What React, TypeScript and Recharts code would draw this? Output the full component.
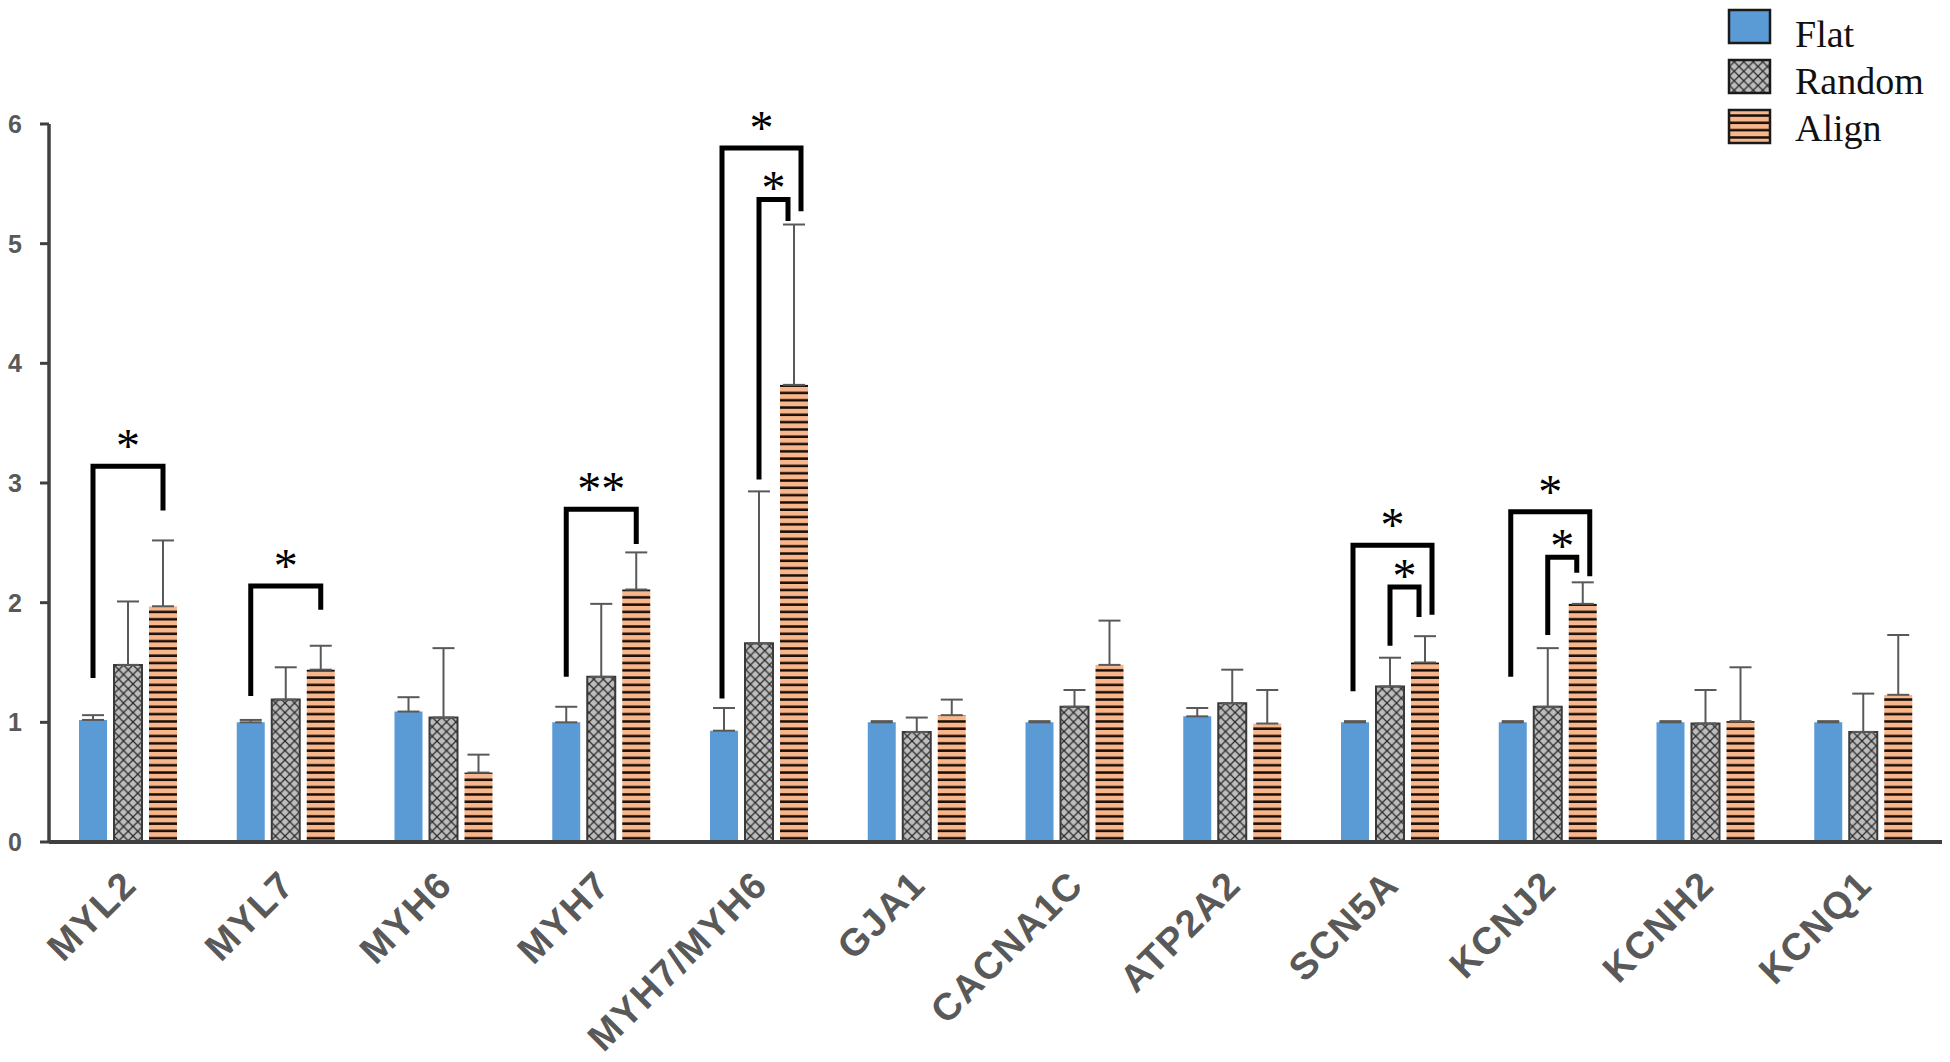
import { Bar, BarChart, ErrorBar, XAxis, YAxis } from "recharts";

// gene categories
const genes = [
  "MYL2", "MYL7", "MYH6", "MYH7", "MYH7/MYH6", "GJA1",
  "CACNA1C", "ATP2A2", "SCN5A", "KCNJ2", "KCNH2", "KCNQ1",
];

// relative expression (mean) and top of the error bar for each group
const flatMean = [1.02, 1.0, 1.09, 1.0, 0.93, 1.0, 1.0, 1.05, 1.0, 1.0, 1.0, 1.0];
const flatUpper = [1.06, 1.02, 1.21, 1.13, 1.12, 1.01, 1.01, 1.12, 1.01, 1.01, 1.01, 1.01];
const randomMean = [1.48, 1.19, 1.04, 1.38, 1.66, 0.92, 1.13, 1.16, 1.3, 1.13, 0.99, 0.92];
const randomUpper = [2.01, 1.46, 1.62, 1.99, 2.93, 1.04, 1.27, 1.44, 1.54, 1.62, 1.27, 1.24];
const alignMean = [1.97, 1.44, 0.58, 2.11, 3.82, 1.06, 1.48, 0.99, 1.5, 1.99, 1.01, 1.23];
const alignUpper = [2.52, 1.64, 0.73, 2.42, 5.16, 1.19, 1.85, 1.27, 1.72, 2.17, 1.46, 1.73];

const yTicks = [0, 1, 2, 3, 4, 5, 6];
const seriesNames = ["Flat", "Random", "Align"];

// significance brackets (heights in data units)
const brackets = [
  { gene: "MYL2", from: "flat", top: 3.14, leftEnd: 1.37, rightEnd: 2.77, label: "*" },
  { gene: "MYL7", from: "flat", top: 2.14, leftEnd: 1.22, rightEnd: 1.94, label: "*" },
  { gene: "MYH7", from: "flat", top: 2.78, leftEnd: 1.38, rightEnd: 2.49, label: "**" },
  { gene: "MYH7/MYH6", from: "flat", top: 5.8, leftEnd: 1.2, rightEnd: 5.27, label: "*" },
  { gene: "MYH7/MYH6", from: "random", top: 5.37, leftEnd: 3.03, rightEnd: 5.19, label: "*" },
  { gene: "SCN5A", from: "flat", top: 2.48, leftEnd: 1.26, rightEnd: 1.9, label: "*" },
  { gene: "SCN5A", from: "random", top: 2.13, leftEnd: 1.64, rightEnd: 1.88, label: "*" },
  { gene: "KCNJ2", from: "flat", top: 2.76, leftEnd: 1.38, rightEnd: 2.22, label: "*" },
  { gene: "KCNJ2", from: "random", top: 2.38, leftEnd: 1.73, rightEnd: 2.25, label: "*" },
];

const data = genes.map((gene, i) => ({
  gene,
  flat: flatMean[i],
  random: randomMean[i],
  align: alignMean[i],
  flatErr: [0, flatUpper[i] - flatMean[i]],
  randomErr: [0, randomUpper[i] - randomMean[i]],
  alignErr: [0, alignUpper[i] - alignMean[i]],
}));

const BAR_SIZE = 28;
const BAR_GAP = 7;
const AXIS = "#404040";
const TEXT_GRAY = "#595959";
const SERIF = "'Liberation Serif', 'Times New Roman', serif";

const GeneTick = (props: any) => {
  const { x, y, payload } = props;
  const ax = x + 11;
  const ay = y + 45;
  return (
    <text
      x={ax}
      y={ay}
      transform={`rotate(-45 ${ax} ${ay})`}
      textAnchor="end"
      fill={TEXT_GRAY}
      fontSize={38}
      fontWeight="bold"
      letterSpacing={1.5}
      fontFamily="'Liberation Sans', Arial, sans-serif"
    >
      {payload.value}
    </text>
  );
};

// Align bar + the significance brackets of its gene
const AlignShape = (props: any) => {
  const { x, y, width, height, payload } = props;
  const base = y + height;
  const unit = height / payload.align;
  const toY = (v: number) => base - v * unit;
  const step = width + BAR_GAP;
  const centers: Record<string, number> = {
    flat: x + width / 2 - 2 * step,
    random: x + width / 2 - step,
    align: x + width / 2,
  };
  const marks = brackets.filter((b) => b.gene === payload.gene);
  const nested = marks.length > 1;
  return (
    <g>
      <rect x={x} y={y} width={width} height={height} fill="url(#alignStripes)" />
      {marks.map((b, i) => {
        const inner = b.from === "random";
        const lx = centers[b.from] + (!inner && nested ? -2 : 0);
        const rx = centers.align + (nested ? (inner ? -6 : 7) : 0);
        const ty = toY(b.top);
        return (
          <g key={i}>
            <path
              d={`M${lx},${toY(b.leftEnd)}V${ty}H${rx}V${toY(b.rightEnd)}`}
              stroke="#000"
              strokeWidth={5}
              fill="none"
            />
            <text
              x={(lx + rx) / 2}
              y={inner ? ty + 5 : ty - 4}
              textAnchor="middle"
              fontFamily={SERIF}
              fontSize={48}
              fill="#000"
            >
              {b.label}
            </text>
          </g>
        );
      })}
    </g>
  );
};

const swatchFills = ["#5b9bd5", "url(#randomHatch)", "url(#alignStripes)"];

const LegendBox = () => (
  <svg width={230} height={160} style={{ position: "absolute", left: 1720, top: 0 }}>
    {seriesNames.map((name, i) => (
      <g key={name}>
        <rect x={9} y={10 + i * 50} width={41} height={33} fill={swatchFills[i]} stroke="#1a1a1a" strokeWidth={2.5} />
        <text x={75} y={47 + i * 47} fontSize={38} fontFamily={SERIF} fill="#111">
          {name}
        </text>
      </g>
    ))}
  </svg>
);

export default function App() {
  return (
    <div style={{ position: "absolute", left: 0, top: 0, width: 1950, height: 1062, background: "#fff" }}>
      <BarChart
        width={1950}
        height={1062}
        data={data}
        margin={{ top: 124, right: 8, left: 0, bottom: 0 }}
        barSize={BAR_SIZE}
        barGap={BAR_GAP}
      >
        <defs>
          <pattern id="randomHatch" patternUnits="userSpaceOnUse" width={9.5} height={9.5}>
            <rect width={9.5} height={9.5} fill="#bdbdbd" />
            <path d="M0,0L9.5,9.5M9.5,0L0,9.5" stroke="#2b2b2b" strokeWidth={1.3} />
          </pattern>
          <pattern id="alignStripes" patternUnits="userSpaceOnUse" width={10} height={7.3}>
            <rect width={10} height={7.3} fill="#f7b68b" />
            <rect y={4.8} width={10} height={2.5} fill="#1a0f08" />
          </pattern>
        </defs>
        <XAxis
          dataKey="gene"
          interval={0}
          height={220}
          tick={<GeneTick />}
          tickLine={false}
          tickSize={0}
          tickMargin={0}
          axisLine={{ stroke: AXIS, strokeWidth: 4 }}
        />
        <YAxis
          width={49}
          domain={[0, 6]}
          ticks={yTicks}
          interval={0}
          tickSize={9}
          tickMargin={18}
          tick={{ fill: TEXT_GRAY, fontSize: 25, fontWeight: "bold", fontFamily: "'Liberation Sans', Arial, sans-serif" }}
          tickLine={{ stroke: AXIS, strokeWidth: 3 }}
          axisLine={{ stroke: AXIS, strokeWidth: 3.5 }}
        />
        <Bar dataKey="flat" name="Flat" fill="#5b9bd5" isAnimationActive={false}>
          <ErrorBar dataKey="flatErr" direction="y" width={11} stroke={TEXT_GRAY} strokeWidth={2} />
        </Bar>
        <Bar
          dataKey="random"
          name="Random"
          fill="url(#randomHatch)"
          stroke="#3a3a3a"
          strokeWidth={2}
          isAnimationActive={false}
        >
          <ErrorBar dataKey="randomErr" direction="y" width={11} stroke={TEXT_GRAY} strokeWidth={2} />
        </Bar>
        <Bar dataKey="align" name="Align" shape={<AlignShape />} isAnimationActive={false}>
          <ErrorBar dataKey="alignErr" direction="y" width={11} stroke={TEXT_GRAY} strokeWidth={2} />
        </Bar>
      </BarChart>
      <LegendBox />
    </div>
  );
}
